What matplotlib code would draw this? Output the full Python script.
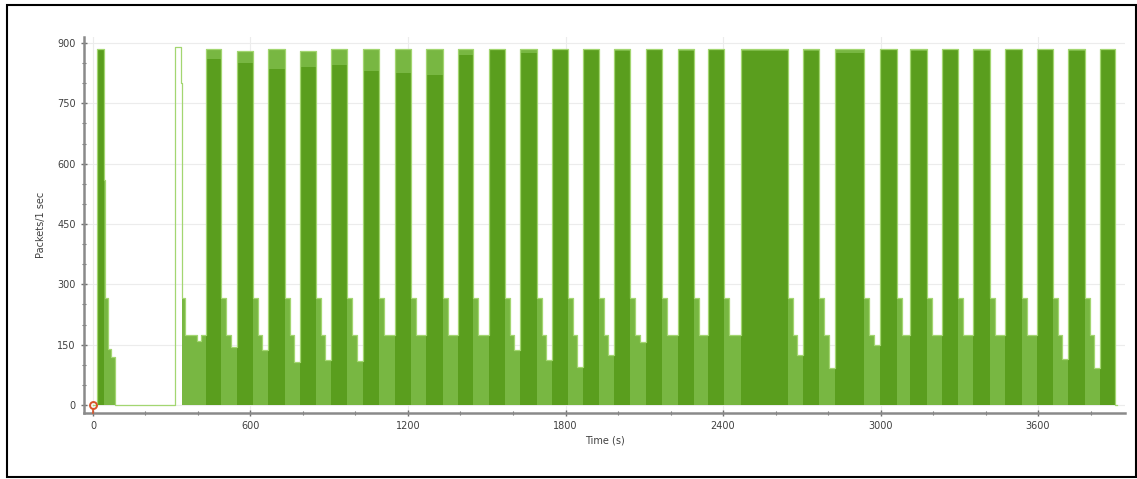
import numpy as np
import matplotlib
matplotlib.use('Agg')
import matplotlib.pyplot as plt
from matplotlib.ticker import MultipleLocator
from matplotlib.patches import Rectangle

# Datos (segundos, paquetes/s)
# tramo inicial antes de las rafagas periodicas
start_t = [0, 15, 18, 42, 46, 57, 70, 84, 313, 334, 338, 351, 395, 410]
start_y = [0, 885, 885, 560, 265, 140, 120, 0, 890, 800, 265, 175, 160, 175]

burst_start = [430, 549, 667, 789, 907, 1029, 1150, 1269, 1390, 1509, 1627, 1749, 1867, 1985,
               2107, 2229, 2343, 2469, 2705, 2827, 2998, 3112, 3234, 3352, 3474, 3596, 3714, 3836]
burst_end = [488, 610, 731, 850, 968, 1090, 1211, 1333, 1448, 1570, 1691, 1810, 1928, 2046,
             2168, 2290, 2404, 2648, 2766, 2937, 3063, 3177, 3295, 3417, 3539, 3657, 3779, 3893]
burst_peak = [885, 880, 885, 880, 885, 885, 885, 885, 885, 885, 885, 885, 885, 885,
              885, 885, 885, 885, 885, 885, 885, 885, 885, 885, 885, 885, 885, 885]
# parte solida (sin picos) de cada rafaga
burst_body = [860, 850, 835, 840, 845, 830, 825, 820, 870, 885, 875, 885, 885, 880,
              885, 880, 885, 880, 880, 875, 885, 880, 885, 880, 885, 885, 880, 885]
# nivel bajo de cada hueco entre rafagas
gap_dip = [145, 137, 107, 112, 110, 175, 175, 175, 175, 137, 112, 95, 124, 157,
           174, 174, 174, 124, 92, 150, 174, 174, 174, 174, 174, 115, 92]
ledge_level = 265
plateau_level = 175

# Construir la envolvente escalonada
t_env = list(start_t)
y_env = list(start_y)
for i in range(len(burst_start)):
    s, e = burst_start[i], burst_end[i]
    t_env += [s]
    y_env += [burst_peak[i]]
    if i < len(gap_dip):
        nxt = burst_start[i + 1]
        gap = nxt - e
        t_env += [e, e + 18, e + 18 + int((gap - 18) * 0.45)]
        y_env += [ledge_level, plateau_level, gap_dip[i]]
    else:
        t_env += [e]
        y_env += [0]
t_env += [3900]
y_env += [0]

t_arr = np.array(t_env)
y_arr = np.array(y_env)
# el pico aislado de t=313 es solo linea, sin relleno
fill_mask = ~((t_arr >= 313) & (t_arr < 338))

dark_green = '#5a9e1e'
mid_green = '#78b742'
light_green = '#a3d671'

fig = plt.figure(figsize=(11.37, 4.79), dpi=100)
ax = fig.add_axes([0.0739, 0.1378, 0.9155, 0.785])

ax.fill_between(t_arr, 0, np.where(fill_mask, y_arr, 0), step='post',
                color=mid_green, linewidth=0)
ax.bar(burst_start, burst_body, width=np.array(burst_end) - np.array(burst_start),
       align='edge', color=dark_green, linewidth=0)
ax.bar(start_t[2], start_y[2], width=start_t[3] - start_t[2], align='edge',
       color=dark_green, linewidth=0)
ax.step(t_arr, y_arr, where='post', color=light_green, linewidth=0.9)

# marcador rojo en el origen
ax.plot([0], [0], marker='o', mfc='none', mec='#d9542b', ms=5, mew=1.4,
        clip_on=False, zorder=5)
ax.plot([0, 0], [-10, -20], color='#d9542b', lw=1.2, clip_on=False, zorder=5)

ax.set_xlim(-34, 3931)
ax.set_ylim(-20, 915)
ax.set_xticks([0, 600, 1200, 1800, 2400, 3000, 3600])
ax.set_yticks([0, 150, 300, 450, 600, 750, 900])
ax.xaxis.set_minor_locator(MultipleLocator(200))
ax.yaxis.set_minor_locator(MultipleLocator(50))
ax.tick_params(which='major', direction='inout', length=5, width=1, color='#707070',
               labelsize=7, labelcolor='#404040')
ax.tick_params(which='minor', direction='inout', length=3, width=0.8, color='#707070')
ax.grid(True, which='major', color='#ececec', linewidth=0.8)
ax.set_axisbelow(True)

for side in ['top', 'right']:
    ax.spines[side].set_visible(False)
for side in ['left', 'bottom']:
    ax.spines[side].set_color('#8a8a8a')
    ax.spines[side].set_linewidth(1.8)

ax.set_xlabel('Time (s)', fontsize=7, color='#404040', labelpad=3)
ax.set_ylabel('Packets/1 sec', fontsize=7, color='#404040', labelpad=8)

# marco exterior
fig.patches.append(Rectangle((7 / 1137, 2 / 479), 1129 / 1137, 472 / 479,
                             transform=fig.transFigure, fill=False,
                             edgecolor='black', linewidth=1.5))

fig.savefig('out.png', dpi=100)
